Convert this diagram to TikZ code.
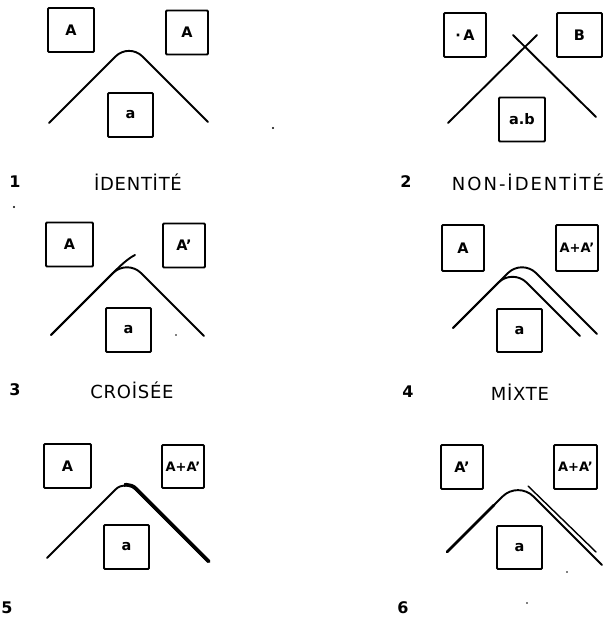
\documentclass[tikz,border=0pt]{standalone}
\usepackage{fontspec}
\setmainfont{DejaVu Sans}
\newfontfamily\capfont[LetterSpace=4]{DejaVu Sans}
\newfontfamily\capfontw[LetterSpace=11]{DejaVu Sans}
\begin{document}
\begin{tikzpicture}[x=1pt,y=-1pt,
  cell/.style={draw, line width=1.8pt, minimum width=44pt, minimum height=44pt, inner sep=0pt,
    font=\bfseries\fontsize{14.5}{14.5}\selectfont, rounded corners=1pt},
  arc/.style={line width=1.9pt, line cap=round},
  captxt/.style={font=\capfont\fontsize{18}{18}\selectfont},
  captxtw/.style={font=\capfontw\fontsize{18}{18}\selectfont},
  numtxt/.style={font=\bfseries\fontsize{16}{16}\selectfont},
  speck/.style={fill, circle, inner sep=0pt, minimum size=2.2pt}]
\useasboundingbox (0,0) rectangle (605,617);

% ---------- panel 1
\node[cell, minimum width=46pt] (p1l) at (71,30) {A};
\node[cell, minimum width=42pt] (p1r) at (187,32.5) {A};
\node[cell, minimum width=45pt] (p1a) at (130.5,115) {a};
\draw[arc, rounded corners=19pt] (49,123) -- (129,43) -- (208,122);
\node[numtxt] (n1) at (15,182) {1};
\node[captxt] (c1) at (138,182) {İDENTİTÉ};

% ---------- panel 2
\node[cell, minimum width=42pt] (p2l) at (465,35) {·\,A};
\node[cell, minimum width=45pt] (p2r) at (579.5,35) {B};
\node[cell, minimum width=46pt] (p2a) at (522,119.5) {a.b};
\draw[arc] (448,123) -- (537,35);
\draw[arc] (513,35) -- (596,117);
\node[numtxt] (n2) at (406,182) {2};
\node[captxtw] (c2) at (528,182) {NON-İDENTİTÉ};

% ---------- panel 3
\node[cell, minimum width=47pt] (p3l) at (69.5,244.5) {A};
\node[cell, minimum width=42pt] (p3r) at (184,245.5) {A’};
\node[cell, minimum width=45pt] (p3a) at (128.5,330) {a};
\draw[arc, rounded corners=20pt] (51,335) -- (127,259) -- (204,336);
\draw[arc] (51,335) -- (110,276) .. controls (119,267) and (127,259) .. (135,255);
\node[numtxt] (n3) at (15,390) {3};
\node[captxt] (c3) at (132,390) {CROİSÉE};

% ---------- panel 4
\node[cell, minimum width=42pt, minimum height=46pt] (p4l) at (463,248) {A};
\node[cell, minimum width=42pt, minimum height=46pt, font=\bfseries\fontsize{13}{13}\selectfont] (p4r) at (577,248) {A+A’};
\node[cell, minimum width=45pt, minimum height=43pt] (p4a) at (519.5,330.5) {a};
\draw[arc, rounded corners=20pt] (453,328) -- (522,259) -- (597,334);
\draw[arc, rounded corners=20pt] (453,328) -- (512.5,268.5) -- (580,336);
\node[numtxt] (n4) at (408,392) {4};
\node[captxt] (c4) at (520,392) {MİXTE};

% ---------- panel 5
\node[cell, minimum width=47pt] (p5l) at (67.5,466) {A};
\node[cell, minimum width=42pt, minimum height=43pt, font=\bfseries\fontsize{13}{13}\selectfont] (p5r) at (183,466.5) {A+A’};
\node[cell, minimum width=45pt] (p5a) at (126.5,547) {a};
\draw[arc, rounded corners=14pt] (47,558) -- (125.5,479.5) -- (208,562);
\begin{scope}
  \clip (124,470) rectangle (216,572);
  \draw[arc, line width=3.6pt, rounded corners=14pt, shift={(0.8,-0.6)}] (47,558) -- (125.5,479.5) -- (208,562);
\end{scope}
\node[numtxt] (n5) at (7,608) {5};

% ---------- panel 6
\node[cell, minimum width=42pt] (p6l) at (462,467) {A’};
\node[cell, minimum width=43pt, font=\bfseries\fontsize{13}{13}\selectfont] (p6r) at (575.5,467) {A+A’};
\node[cell, minimum width=45pt, minimum height=43pt] (p6a) at (519.5,547.5) {a};
\draw[arc, rounded corners=22pt] (447,552) -- (518,481) -- (602,565);
\draw[arc, line width=2.8pt] (447,552) -- (494,505);
\draw[arc, line width=1.4pt] (528,486) -- (596,552);
\node[numtxt] (n6) at (403,608) {6};

% ---------- specks
\node[speck] (s1) at (273,128) {};
\node[speck] (s2) at (14,207) {};
\node[speck, minimum size=1.6pt] (s3) at (176,335) {};
\node[speck, minimum size=1.6pt] (s4) at (567,572) {};
\node[speck, minimum size=1.6pt] (s5) at (527,603) {};
\end{tikzpicture}
\end{document}
